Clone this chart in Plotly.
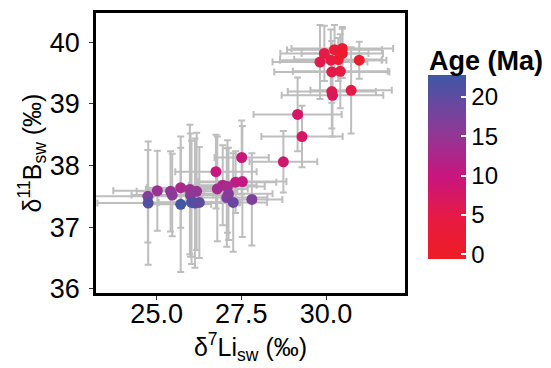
import plotly.graph_objects as go

# data: delta7Li_sw, delta11B_sw, errors, age
li = [30.48, 30.25, 29.95, 30.48, 30.36, 30.14, 29.82, 30.98, 30.17, 30.42,
      30.17, 30.19, 30.74, 29.16, 29.29, 28.74, 27.51, 26.75, 27.33, 27.53,
      26.95, 27.09, 26.79, 27.12, 27.07, 27.26, 27.81, 25.71, 25.98, 26.18,
      26.00, 25.41, 25.46, 25.02, 24.74, 24.75, 25.71, 26.03, 26.13, 26.26]
boron = [39.90, 39.88, 39.82, 39.82, 39.72, 39.71, 39.68, 39.71, 39.52, 39.53,
         39.20, 39.14, 39.22, 38.83, 38.47, 38.06, 38.13, 37.90, 37.73, 37.74,
         37.68, 37.66, 37.62, 37.54, 37.48, 37.40, 37.45, 37.64, 37.61, 37.58,
         37.52, 37.58, 37.52, 37.59, 37.50, 37.39, 37.37, 37.40, 37.39, 37.40]
li_err = [1.5, 1.4, 1.3, 1.2, 1.3, 1.5, 1.4, 0.8, 1.7, 1.4,
          1.3, 1.5, 1.2, 1.3, 1.2, 1.0, 0.8, 1.2, 1.2, 1.3,
          1.0, 1.1, 0.9, 1.3, 1.2, 1.0, 0.9, 1.0, 1.3, 1.2,
          1.1, 1.0, 1.2, 1.3, 1.6, 1.5, 0.9, 1.4, 1.3, 1.2]
b_err = [0.35, 0.40, 0.45, 0.40, 0.35, 0.50, 0.60, 0.30, 0.50, 0.60,
         0.60, 0.67, 0.70, 0.60, 0.50, 0.50, 0.60, 0.60, 0.50, 0.90,
         0.65, 0.75, 0.85, 0.75, 0.80, 0.80, 0.75, 0.65, 1.05, 0.95,
         1.00, 0.65, 0.67, 0.65, 0.75, 1.00, 1.10, 1.00, 1.05, 0.90]
age = [2.0, 3.0, 5.0, 1.0, 1.5, 4.0, 5.5, 0.5, 5.0, 4.5,
       6.0, 6.5, 5.0, 8.0, 7.5, 8.5, 9.5, 10.0, 10.5, 10.5,
       12.0, 13.0, 13.5, 16.0, 16.5, 19.0, 17.0, 13.0, 14.0, 15.0,
       15.5, 15.0, 16.0, 14.5, 16.5, 21.0, 22.5, 21.5, 21.0, 20.0]

x_ticks = [25.0, 27.5, 30.0]
y_ticks = [36, 37, 38, 39, 40]
age_ticks = [0, 5, 10, 15, 20]

cmin, cmax = -0.6, 22.8
scale = [[0.0, "#EE1D24"], [0.22, "#E71A42"], [0.45, "#C8167F"],
         [0.7, "#8C3A97"], [1.0, "#3F57A6"]]

FONT = "Liberation Sans"
OFF = 8  # page body margin

fig = go.Figure()
fig.add_trace(go.Scatter(
    x=li, y=boron, mode="markers",
    error_x=dict(type="data", array=li_err, color="#BEBEBE", thickness=2, width=3.5),
    error_y=dict(type="data", array=b_err, color="#BEBEBE", thickness=2, width=3.5),
    marker=dict(size=11, color=age, colorscale=scale, cmin=cmin, cmax=cmax,
                line=dict(width=0),
                colorbar=dict(
                    x=(428 - 96) / 309, xanchor="left", xref="paper",
                    y=(293 - 167) / 280, yanchor="middle", yref="paper",
                    len=184, lenmode="pixels", thickness=38,
                    outlinewidth=0, tickvals=age_ticks,
                    ticks="inside", tickcolor="white", ticklen=5, tickwidth=1.5,
                    tickfont=dict(size=24, color="black", family=FONT),
                    ypad=0, xpad=0)),
    showlegend=False))

fig.add_annotation(text="<b>Age (Ma)</b>", xref="paper", yref="paper",
                   x=(427 - 96) / 309, xanchor="left", y=(293 - 61) / 280, yanchor="middle",
                   showarrow=False, font=dict(size=27, color="black", family=FONT))

fig.update_layout(
    width=551 - OFF, height=368 - OFF,
    margin=dict(l=96 - OFF, r=146, t=13 - OFF, b=75),
    plot_bgcolor="white", paper_bgcolor="white",
    font=dict(family=FONT, color="black"),
    xaxis=dict(range=[23.21, 32.33], tickvals=x_ticks, tickformat=".1f",
               automargin=False, ticklabelstandoff=-9,
               showgrid=False, zeroline=False, showline=True, mirror=True,
               linecolor="black", linewidth=2.5, ticks="outside", ticklen=4,
               tickcolor="#333333", tickwidth=1.2,
               tickfont=dict(size=27, color="black"),
               title=dict(text="δ<sup>7</sup>Li<sub>sw</sub> (‰)", font=dict(size=25), standoff=10)),
    yaxis=dict(range=[35.93, 40.476], tickvals=y_ticks,
               automargin=False, ticklabelstandoff=4,
               showgrid=False, zeroline=False, showline=True, mirror=True,
               linecolor="black", linewidth=2.5, ticks="outside", ticklen=4,
               tickcolor="#333333", tickwidth=1.2,
               tickfont=dict(size=27, color="black"),
               title=dict(text="δ<sup>11</sup>B<sub>sw</sub> (‰)", font=dict(size=25), standoff=0)),
)

fig.write_html("out.html")
